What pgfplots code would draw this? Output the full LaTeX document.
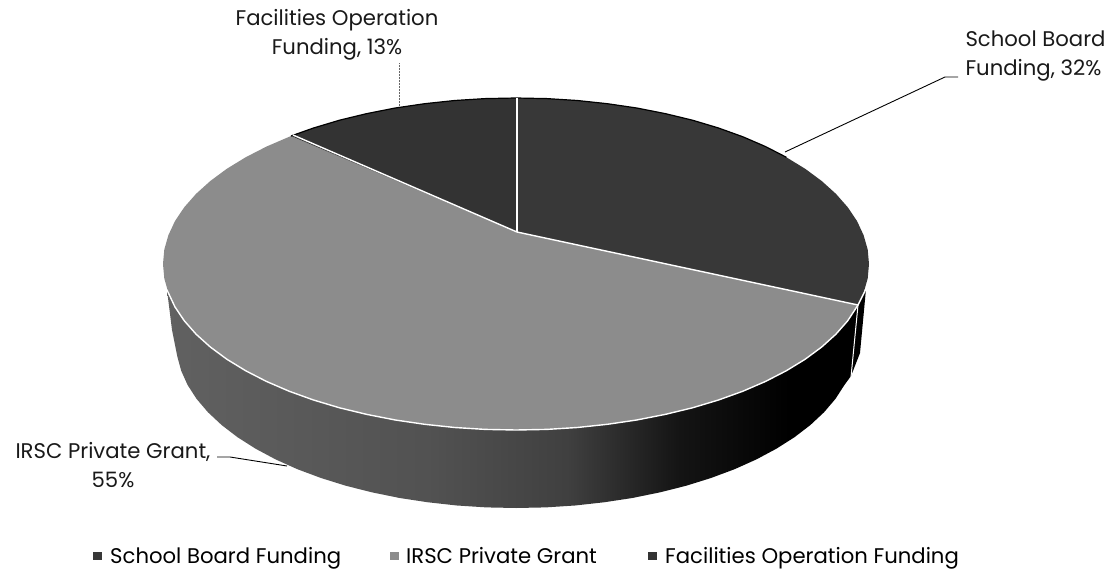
\documentclass[border=0pt]{standalone}
\usepackage{pgfplots}
\pgfplotsset{compat=1.18}
\usepackage{fontspec}
\setmainfont{Poppins}
\pgfdeclarehorizontalshading{sidegrad}{100bp}{
 color(0bp)=(black!62); color(25bp)=(black!62); color(44bp)=(black!68); color(54bp)=(black!75);
 color(62bp)=(black!92); color(70bp)=(black); color(100bp)=(black)}
\begin{document}
\begin{tikzpicture}
\begin{axis}[
  scale only axis, width=1109pt, height=570pt,
  xmin=0, xmax=1109, ymin=0, ymax=570, y dir=reverse,
  hide axis, clip=false,
  legend style={at={(axis cs:93,556)}, anchor=west, draw=none, fill=none,
    legend columns=3, font=\fontsize{21.2}{24}\selectfont, inner sep=0pt,
    /tikz/every even column/.append style={column sep=0pt}},
  legend image code/.code={\fill[#1] (0pt,-4pt) rectangle (9pt,4pt);},
  legend cell align=left,
]
% side of the IRSC slice
\addplot[forget plot, draw=none, shading=sidegrad] coordinates {
(167,290)(175,307)(184.3,320.8)(196.1,334.2)(210.3,347)(226.8,359.2)(245.6,370.7)(266.4,381.4)(289.1,391.2)(313.5,400)(339.5,407.8)(366.8,414.4)(395.3,420)(424.6,424.3)(454.7,427.5)(485.2,429.4)(516,430)(546.8,429.4)(577.3,427.5)(607.4,424.3)(636.7,420)(665.2,414.4)(692.5,407.8)(718.5,400)(742.9,391.2)(765.6,381.4)(786.4,370.7)(805.2,359.2)(821.7,347)(835.9,334.2)(847.7,320.8)(858,305)
(851,376)(844.4,385)(835.5,398.8)(824.1,412.2)(810.4,425)(794.5,437.2)(776.4,448.7)(756.4,459.4)(734.6,469.2)(711,478)(686,485.8)(659.7,492.4)(632.3,498)(604,502.3)(575,505.5)(545.6,507.4)(516,508)(486.4,507.4)(457,505.5)(428,502.3)(399.7,498)(372.3,492.4)(346,485.8)(321,478)(297.4,469.2)(275.6,459.4)(255.6,448.7)(237.5,437.2)(221.6,425)(207.9,412.2)(196.5,398.8)(187.6,385)(181.2,370.8)(177.3,356.5)(172,330)
};
% side of the School Board slice
\addplot[forget plot, draw=none, fill=black] coordinates {(858,305)(866,289)(860,353)(851,376)};
% top faces
\addplot[draw=none, fill=black!78] coordinates {
(517,232)(516,98)(546.8,98.6)(577.3,100.5)(607.4,103.7)(636.7,108)(665.2,113.6)(692.5,120.2)(718.5,128)(742.9,136.8)(765.6,146.6)(786.4,157.3)(805.2,168.8)(821.7,181)(835.9,193.8)(847.7,207.2)(857,221)(863.6,235.2)(867.7,249.5)(869,264)(867.7,278.5)(863.6,292.8)(858,305)};
\addlegendentry{\makebox[284pt][l]{\hspace*{6pt}School Board Funding}}
\addplot[draw=none, fill=black!45] coordinates {
(517,232)(858,305)(847.7,320.8)(835.9,334.2)(821.7,347)(805.2,359.2)(786.4,370.7)(765.6,381.4)(742.9,391.2)(718.5,400)(692.5,407.8)(665.2,414.4)(636.7,420)(607.4,424.3)(577.3,427.5)(546.8,429.4)(516,430)(485.2,429.4)(454.7,427.5)(424.6,424.3)(395.3,420)(366.8,414.4)(339.5,407.8)(313.5,400)(289.1,391.2)(266.4,381.4)(245.6,370.7)(226.8,359.2)(210.3,347)(196.1,334.2)(184.3,320.8)(175,307)(168.4,292.8)(164.3,278.5)(163,264)(164.3,249.5)(168.4,235.2)(175,221)(184.3,207.2)(196.1,193.8)(210.3,181)(226.8,168.8)(245.6,157.3)(266.4,146.6)(291,136)};
\addlegendentry{\makebox[245pt][l]{\hspace*{5pt}IRSC Private Grant}}
\addplot[draw=none, fill=black!80] coordinates {
(517,232)(291,136)(313.5,128)(339.5,120.2)(366.8,113.6)(395.3,108)(424.6,103.7)(454.7,100.5)(485.2,98.6)(516,98)};
\addlegendentry{\hspace*{6pt}Facilities Operation Funding}
% dark rim at the back
\addplot[forget plot, black, line width=1.2pt] coordinates {
(291,136)(313.5,128)(339.5,120.2)(366.8,113.6)(395.3,108)(424.6,103.7)(454.7,100.5)(485.2,98.6)(516,98)(546.8,98.6)(577.3,100.5)(607.4,103.7)(636.7,108)(665.2,113.6)(692.5,120.2)(718.5,128)(742.9,136.8)(765.6,146.6)(786.4,157.3)};
% white edges
\addplot[forget plot, white, line width=1.4pt] coordinates {(517,98)(517,232)};
\addplot[forget plot, white, line width=1.4pt] coordinates {(293,135)(517,232)(858,305)};
\addplot[forget plot, white, line width=1.4pt] coordinates {
(167,290)(175,307)(184.3,320.8)(196.1,334.2)(210.3,347)(226.8,359.2)(245.6,370.7)(266.4,381.4)(289.1,391.2)(313.5,400)(339.5,407.8)(366.8,414.4)(395.3,420)(424.6,424.3)(454.7,427.5)(485.2,429.4)(516,430)(546.8,429.4)(577.3,427.5)(607.4,424.3)(636.7,420)(665.2,414.4)(692.5,407.8)(718.5,400)(742.9,391.2)(765.6,381.4)(786.4,370.7)(805.2,359.2)(821.7,347)(835.9,334.2)(847.7,320.8)(858,305)(866,289)};
\addplot[forget plot, white, line width=1pt] coordinates {(858,305)(851,377)};
% leader lines
\addplot[forget plot, black, line width=0.9pt] coordinates {(785,152)(945,77)(958,77)};
\addplot[forget plot, black!60, line width=0.5pt, densely dotted] coordinates {(399,63)(399,106)};
\addplot[forget plot, black, line width=0.9pt] coordinates {(217,457)(230,457)(287,466)};
% labels
\node[align=center, font=\fontsize{21.2}{28.5}\selectfont, text=black!90] at (axis cs:337,35) {Facilities Operation\\Funding, 13\%};
\node[align=left, anchor=west, font=\fontsize{21.2}{28.5}\selectfont, text=black!90] at (axis cs:962,56) {School Board\\Funding, 32\%};
\node[align=center, font=\fontsize{21.2}{28.5}\selectfont, text=black!90] at (axis cs:113,465) {IRSC Private Grant,\\55\%};
\end{axis}
\pgfresetboundingbox
\useasboundingbox (0,0) rectangle (1109pt,570pt);
\end{tikzpicture}
\end{document}
